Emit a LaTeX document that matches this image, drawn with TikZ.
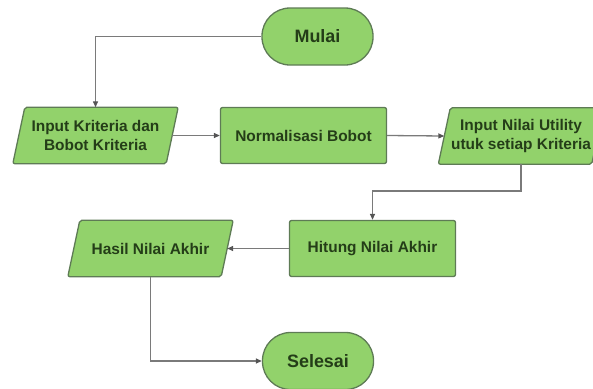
\documentclass[tikz,border=0pt]{standalone}
\usepackage{fontspec}
\setmainfont{Liberation Sans}
\usetikzlibrary{arrows.meta,backgrounds}
\definecolor{boxfill}{HTML}{92D26B}
\definecolor{boxline}{HTML}{5E7B55}
\definecolor{boxtext}{HTML}{243D18}
\definecolor{conn}{HTML}{7A7A7A}
\definecolor{tip}{HTML}{555555}
\tikzset{
  every node/.style={font=\fontsize{15.5}{19}\selectfont\bfseries, text=boxtext, align=center, inner sep=0pt},
  shp/.style={draw=boxline, fill=boxfill, line width=1.3bp},
  terminal/.style={shp, rectangle, rounded corners=28bp, minimum width=111bp, minimum height=57bp,
     font=\fontsize{18}{22}\selectfont\bfseries},
  process/.style={shp, rectangle, rounded corners=2bp, minimum width=166bp, minimum height=56bp},
  io/.style={rectangle, minimum width=153bp, minimum height=56bp},
  conn/.style={draw=conn, line width=1.3bp, -{Triangle[length=6bp,width=5bp,color=tip]}, rounded corners=0pt},
}
\newcommand\ioshape[1]{%
  \begin{pgfonlayer}{background}
    \draw[shp, rounded corners=2bp] ([xshift=6bp]#1.north west) -- ([xshift=6bp]#1.north east)
      -- ([xshift=-6bp]#1.south east) -- ([xshift=-6bp]#1.south west) -- cycle;
  \end{pgfonlayer}}
\begin{document}
\begin{tikzpicture}[x=1bp,y=-1bp]
\useasboundingbox (0,0) rectangle (593,388);
\node[terminal] (mulai) at (317.5,36.5) {Mulai};
\node[io] (inkri) at (95.5,135.5) {Input Kriteria dan\\Bobot Kriteria};
\ioshape{inkri}
\node[process] (norm) at (303.5,135.5) {Normalisasi Bobot};
\node[io] (innilai) at (521,136) {Input Nilai Utility\\utuk setiap Kriteria};
\ioshape{innilai}
\node[process] (hitung) at (372.5,248.5) {Hitung Nilai Akhir};
\node[io] (hasil) at (150.5,248.5) {Hasil Nilai Akhir};
\ioshape{hasil}
\node[terminal] (selesai) at (318,361) {Selesai};
\coordinate (bend) at (521,191);
\draw[conn] (mulai.west) -| (inkri.north);
\draw[conn] (inkri.east) -- (norm.west);
\draw[conn] (norm.east) -- (innilai.west);
\draw[conn] (innilai.south) -- (bend) -| (hitung.north);
\draw[conn] (hitung.west) -- (hasil.east);
\draw[conn] (hasil.south) |- (selesai.west);
\end{tikzpicture}
\end{document}
